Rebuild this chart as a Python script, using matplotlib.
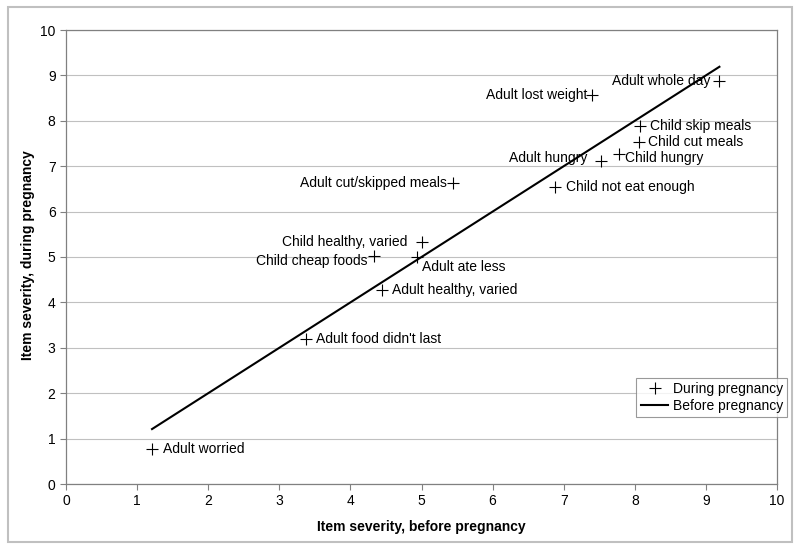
import matplotlib
matplotlib.use("Agg")
import matplotlib.pyplot as plt
from matplotlib.patches import Rectangle

plt.rcParams['font.family'] = ['Liberation Sans', 'DejaVu Sans']

items = ["Adult whole day", "Adult lost weight", "Child skip meals", "Child cut meals",
         "Child hungry", "Adult hungry", "Child not eat enough", "Adult cut/skipped meals",
         "Child healthy, varied", "Child cheap foods", "Adult ate less",
         "Adult healthy, varied", "Adult food didn't last", "Adult worried"]
before = [9.19, 7.40, 8.08, 8.06, 7.78, 7.53, 6.88, 5.45, 5.01, 4.33, 4.94, 4.45, 3.37, 1.21]
during = [8.88, 8.57, 7.89, 7.53, 7.27, 7.11, 6.54, 6.63, 5.33, 5.02, 5.00, 4.27, 3.19, 0.77]

# label placement (pixel offsets, alignment) — styling only
label_style = {
    "Adult whole day": (-9, 0, 'right'),
    "Adult lost weight": (-5, 0, 'right'),
    "Child skip meals": (10, 0, 'left'),
    "Child cut meals": (9, 0, 'left'),
    "Child hungry": (6, -4, 'left'),
    "Adult hungry": (-14, 3, 'right'),
    "Child not eat enough": (11, 0, 'left'),
    "Adult cut/skipped meals": (-7, 0, 'right'),
    "Child healthy, varied": (-15, 0, 'right'),
    "Child cheap foods": (-6, -5, 'right'),
    "Adult ate less": (5, -10, 'left'),
    "Adult healthy, varied": (10, 0, 'left'),
    "Adult food didn't last": (10, 0, 'left'),
    "Adult worried": (11, 0, 'left'),
}

fig = plt.figure(figsize=(8.0, 5.49), dpi=100)
fig.patches.append(Rectangle((8/800, 7/549), 784/800, 535/549, transform=fig.transFigure,
                             fill=False, edgecolor='#c0c0c0', linewidth=1.5))
ax = fig.add_axes([66/800, 65/549, 711/800, 454/549])

ax.plot(before, during, linestyle='none', marker='+', markersize=9, markeredgewidth=0.8,
        color='black', label='During pregnancy')
bs = sorted(before)
ax.plot([bs[0], bs[-1]], [bs[0], bs[-1]], color='black', linewidth=1.5, label='Before pregnancy')

for name, x, y in zip(items, before, during):
    dx, dy, ha = label_style[name]
    ax.annotate(name, (x, y), xytext=(dx * 0.72, dy * 0.72), textcoords='offset points',
                ha=ha, va='center', fontsize=10)

ax.set_xlim(0, 10)
ax.set_ylim(0, 10)
ax.set_xticks(range(0, 11))
ax.set_yticks(range(0, 11))
ax.tick_params(labelsize=10, colors='#808080', labelcolor='black', length=4, width=0.8)
ax.yaxis.grid(True, color='#c0c0c0', linewidth=0.8)
ax.set_axisbelow(True)
for s in ax.spines.values():
    s.set_color('#808080')
    s.set_linewidth(0.9)

ax.set_xlabel('Item severity, before pregnancy', fontsize=10, fontweight='bold', labelpad=8)
ax.set_ylabel('Item severity, during pregnancy', fontsize=10, fontweight='bold', va='center')
ax.yaxis.set_label_coords((28 - 66) / 711, 0.505)

leg = ax.legend(loc='upper right', bbox_to_anchor=(787/800, 1 - 378/549),
                bbox_transform=fig.transFigure, fontsize=10, frameon=True, fancybox=False,
                borderpad=0.3, handlelength=2.0, handletextpad=0.3, labelspacing=0.2,
                borderaxespad=0)
leg.get_frame().set_edgecolor('#808080')
leg.get_frame().set_linewidth(0.8)

fig.savefig('out.png', dpi=100)
